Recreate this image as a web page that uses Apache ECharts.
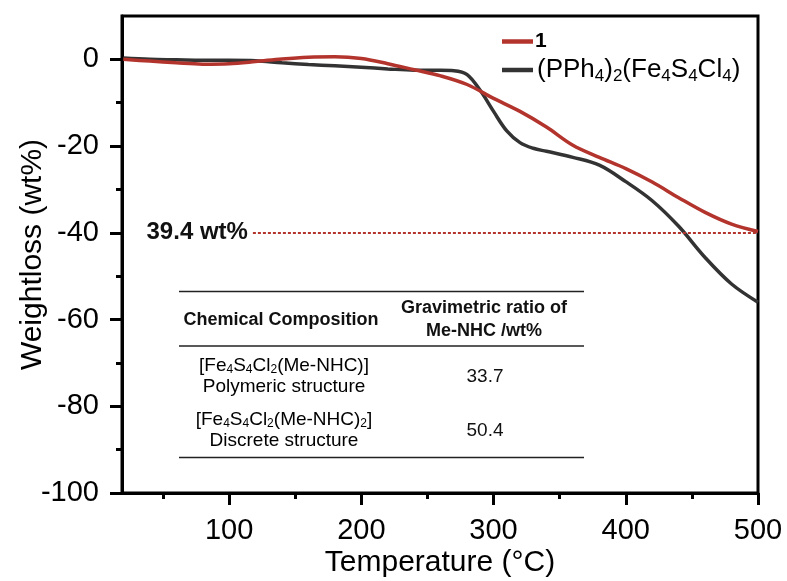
<!DOCTYPE html>
<html>
<head>
<meta charset="utf-8">
<script src="https://cdn.jsdelivr.net/npm/echarts@6/dist/echarts.min.js"></script>
<style>html,body{margin:0;padding:0;background:#fff}#c{width:787px;height:581px}</style>
</head>
<body>
<div id="c"></div>
<script>
// ---- data ----
const temps1 = [20, 40, 60, 80, 100, 120, 140, 160, 180, 200, 220, 240, 260, 280, 300, 320, 340, 360, 380, 400, 420, 440, 460, 480, 500];
const weight1 = [0, -0.4, -0.8, -1.1, -1.0, -0.5, 0.1, 0.5, 0.6, 0.2, -1.0, -2.4, -3.8, -5.8, -9.0, -12.0, -15.6, -19.8, -22.6, -25.2, -28.3, -31.9, -35.3, -38.0, -39.7];
const temps2 = [20, 40, 60, 80, 100, 120, 140, 160, 180, 200, 220, 240, 260, 270, 280, 290, 300, 310, 320, 330, 340, 360, 380, 400, 420, 440, 460, 480, 500];
const weight2 = [0.3, 0, -0.1, -0.2, -0.2, -0.3, -0.8, -1.2, -1.5, -1.8, -2.2, -2.5, -2.5, -2.6, -3.5, -7.2, -12.0, -16.5, -19.2, -20.5, -21.2, -22.6, -24.4, -28.2, -32.6, -38.5, -45.7, -51.8, -56.0];
const seriesNames = ['1', '(PPh4)2(Fe4S4Cl4)'];
const xMajorTicks = [100, 200, 300, 400, 500];
const xMinorTicks = [50, 150, 250, 350, 450];
const yMajorTicks = [-100, -80, -60, -40, -20, 0];
const yMinorTicks = [-90, -70, -50, -30, -10];
const markLevel = -40;
const markStartT = 118;
const markLabel = '39.4 wt%';
const tableHeader = ['Chemical Composition', 'Gravimetric ratio of\nMe-NHC /wt%'];
const tableCompounds = ['{m|[Fe}{s|4}{m|S}{s|4}{m|Cl}{s|2}{m|(Me-NHC)]}', '{m|[Fe}{s|4}{m|S}{s|4}{m|Cl}{s|2}{m|(Me-NHC)}{s|2}{m|]}'];
const tableStructures = ['Polymeric structure', 'Discrete structure'];
const tableRatios = ['33.7', '50.4'];

const FONT = 'Liberation Sans, Arial, sans-serif';
const RED = '#b3342d';
const BLK = '#333333';

const chart = echarts.init(document.getElementById('c'), null, {renderer: 'canvas'});

const subRich = {
  m: {fontSize: 19, fontFamily: FONT, color: '#111', lineHeight: 21},
  s: {fontSize: 12, fontFamily: FONT, color: '#111', lineHeight: 12, padding: [9, 0, 0, 0]}
};

const ruleY = [291.5, 346, 457.5];
const graphics = ruleY.map(y => ({
  type: 'line', shape: {x1: 179, y1: y, x2: 584, y2: y}, style: {stroke: '#222', lineWidth: 1.3}
}));
graphics.push({type: 'text', x: 281, y: 320, style: {text: tableHeader[0], font: 'bold 18px ' + FONT, fill: '#111', align: 'center', verticalAlign: 'middle'}});
graphics.push({type: 'text', x: 484, y: 320, style: {text: tableHeader[1], font: 'bold 18px ' + FONT, fill: '#111', align: 'center', verticalAlign: 'middle', lineHeight: 23}});
const rowY = [376, 430];
rowY.forEach((y, i) => {
  graphics.push({type: 'text', x: 284, y: y, style: {text: tableCompounds[i] + '\n{m|' + tableStructures[i] + '}', rich: subRich, align: 'center', verticalAlign: 'middle'}});
  graphics.push({type: 'text', x: 485, y: y + 1, style: {text: tableRatios[i], font: '19px ' + FONT, fill: '#111', align: 'center', verticalAlign: 'middle'}});
});

const legendRich = {
  b: {fontSize: 21, fontWeight: 'bold', fontFamily: FONT, color: '#000', lineHeight: 28},
  m: {fontSize: 26, fontFamily: FONT, color: '#000', lineHeight: 28},
  s: {fontSize: 17, fontFamily: FONT, color: '#000', lineHeight: 17, padding: [13, 0, 0, 0]}
};

function legendFmt(name) {
  if (name === seriesNames[0]) return '{b|' + name + '}';
  return '{m|(PPh}{s|4}{m|)}{s|2}{m|(Fe}{s|4}{m|S}{s|4}{m|Cl}{s|4}{m|)}';
}

const option = {
  backgroundColor: '#fff',
  animation: false,
  textStyle: {fontFamily: FONT},
  grid: {left: 122, right: 29, top: 16, bottom: 88, show: true, borderColor: '#000', borderWidth: 3, containLabel: false, outerBoundsMode: 'none'},
  legend: [
    {data: [{name: seriesNames[0], icon: 'rect'}], left: 497, top: 26, itemWidth: 31, itemHeight: 4.5, itemGap: 0, formatter: legendFmt,
     textStyle: {rich: legendRich, padding: [0, 0, 0, -3]}},
    {data: [{name: seriesNames[1], icon: 'rect'}], left: 497, top: 50, itemWidth: 31, itemHeight: 4.5, itemGap: 0, formatter: legendFmt,
     textStyle: {rich: legendRich, padding: [0, 0, 0, -1]}}
  ],
  xAxis: [
    {type: 'value', min: 19, max: 500, position: 'bottom',
     name: 'Temperature (\u00b0C)', nameLocation: 'middle', nameGap: 55, nameMoveOverlap: false,
     nameTextStyle: {fontSize: 30, color: '#000', fontFamily: FONT},
     axisLine: {onZero: false, lineStyle: {color: '#000', width: 3}},
     axisTick: {customValues: xMajorTicks, length: 12, lineStyle: {color: '#000', width: 3}},
     axisLabel: {customValues: xMajorTicks, fontSize: 29, color: '#000', margin: 23, fontFamily: FONT},
     splitLine: {show: false}},
    {type: 'value', min: 19, max: 500, position: 'bottom',
     axisLine: {show: false, onZero: false},
     axisTick: {customValues: xMinorTicks, length: 6, lineStyle: {color: '#000', width: 3}},
     axisLabel: {show: false},
     splitLine: {show: false}}
  ],
  yAxis: [
    {type: 'value', min: -100, max: 10, position: 'left',
     name: 'Weightloss (wt%)', nameLocation: 'middle', nameGap: 74, nameMoveOverlap: false,
     nameTextStyle: {fontSize: 30, color: '#000', fontFamily: FONT},
     axisLine: {show: true, onZero: false, lineStyle: {color: '#000', width: 3}},
     axisTick: {show: true, customValues: yMajorTicks, length: 12, lineStyle: {color: '#000', width: 3}},
     axisLabel: {customValues: yMajorTicks, fontSize: 29, color: '#000', margin: 23, fontFamily: FONT},
     splitLine: {show: false}},
    {type: 'value', min: -100, max: 10, position: 'left',
     axisLine: {show: false, onZero: false},
     axisTick: {show: true, customValues: yMinorTicks, length: 6, lineStyle: {color: '#000', width: 3}},
     axisLabel: {show: false},
     splitLine: {show: false}}
  ],
  series: [
    {name: seriesNames[0], type: 'line', xAxisIndex: 0, yAxisIndex: 0, symbol: 'none', smooth: 0.35,
     data: temps1.map((t, i) => [t, weight1[i]]),
     lineStyle: {color: RED, width: 3.5}, itemStyle: {color: RED}, z: 3,
     markLine: {
       silent: true, symbol: 'none',
       lineStyle: {color: RED, width: 2, type: [3, 2]},
       label: {show: true, position: 'start', formatter: markLabel, fontSize: 24, fontWeight: 'bold', color: '#111', distance: 5, fontFamily: FONT},
       data: [[{coord: [markStartT, markLevel]}, {coord: [500, markLevel]}]]
     }},
    {name: seriesNames[1], type: 'line', xAxisIndex: 0, yAxisIndex: 0, symbol: 'none', smooth: 0.35,
     data: temps2.map((t, i) => [t, weight2[i]]),
     lineStyle: {color: BLK, width: 3.5}, itemStyle: {color: BLK}, z: 2}
  ],
  graphic: graphics
};
chart.setOption(option);
</script>
</body>
</html>
